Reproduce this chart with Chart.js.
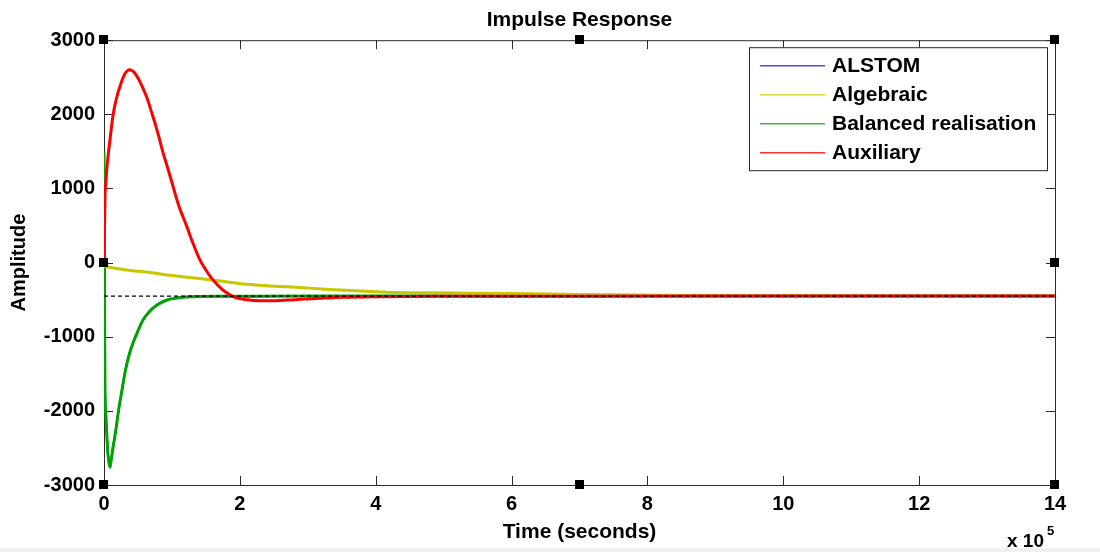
<!DOCTYPE html>
<html><head><meta charset="utf-8">
<script src="https://cdn.jsdelivr.net/npm/chart.js@4/dist/chart.umd.min.js"></script>
<style>
html,body{margin:0;padding:0;background:#f0f0f0;}
#c{display:block;background:#fff;}
</style></head><body>
<canvas id="c" width="1100" height="548"></canvas>
<script>
const FONT = '"Liberation Sans", Arial, Helvetica, sans-serif';
const seriesNames = ['ALSTOM', 'Algebraic', 'Balanced realisation', 'Auxiliary'];
const seriesColors = ['#0000ff', '#c8c800', '#00a400', '#ff0000'];
const legendColors = ['#4a4aff', '#d8d840', '#40b840', '#ff3030'];
const xTickVals = [0, 200000, 400000, 600000, 800000, 1000000, 1200000, 1400000];
const xTickLabels = ['0', '2', '4', '6', '8', '10', '12', '14'];
const yTickVals = [-3000, -2000, -1000, 0, 1000, 2000, 3000];
const yTickLabels = ['-3000', '-2000', '-1000', '0', '1000', '2000', '3000'];
const steadyState = -452;

// Auxiliary (red)
const auxT = [0, 1500, 3000, 4400, 6500, 8800, 11000, 13200, 15500, 18000, 20500, 23500, 27000, 31000, 34500, 38000, 41000, 44000, 50000, 57000, 63000, 69000, 75000, 81000, 87000, 94000, 100000, 110000, 122000, 131000, 141000, 150000, 160000, 175000, 190000, 205000, 220000, 240000, 260000, 280000, 300000, 325000, 350000, 400000, 500000, 700000, 1000000, 1400000];
const auxY = [0, 890, 1110, 1290, 1480, 1655, 1830, 1980, 2100, 2200, 2290, 2375, 2470, 2550, 2590, 2600, 2592, 2570, 2490, 2360, 2230, 2060, 1885, 1690, 1480, 1270, 1080, 770, 485, 260, 40, -100, -230, -370, -458, -495, -510, -515, -512, -500, -490, -478, -468, -460, -455, -453, -452, -452];

// Balanced realisation (green)
const balancedT = [0, 500, 1000, 1470, 2700, 4000, 6000, 8800, 10300, 13200, 17700, 22000, 26500, 31000, 36800, 42700, 50000, 57400, 65000, 72000, 82000, 92700, 105000, 116000, 130000, 141000, 170000, 220000, 300000, 500000, 1000000, 1400000];
const balancedY = [1500, 300, -1000, -1700, -2050, -2300, -2600, -2760, -2680, -2500, -2240, -1960, -1720, -1480, -1250, -1085, -920, -775, -680, -613, -550, -505, -480, -467, -460, -457, -455, -453, -452, -452, -452, -452];

// ALSTOM (blue) - hidden beneath the balanced realisation curve
const alstomT = balancedT;
const alstomY = balancedY;

// Algebraic (yellow)
const algebraicT = [0, 30000, 67700, 100000, 141000, 180000, 215000, 250000, 288500, 325000, 362000, 400000, 436000, 490000, 540000, 600000, 657000, 750000, 850000, 1000000, 1200000, 1400000];
const algebraicY = [-50, -95, -135, -175, -215, -258, -296, -318, -336, -358, -377, -392, -404, -408, -412, -418, -424, -435, -443, -448, -451, -452];

function pts(ts, ys) { return ts.map((t, i) => ({x: t, y: ys[i]})); }
const font20 = {family: FONT, size: 20, weight: 'bold'};
const font21 = {family: FONT, size: 21, weight: 'bold'};

const decor = {
  id: 'decor',
  beforeDatasetsDraw(chart) {
    const {ctx, chartArea: a, scales: {x, y}} = chart;
    ctx.save();
    ctx.strokeStyle = '#2b2b2b';
    ctx.lineWidth = 1;
    ctx.strokeRect(a.left + 0.5, a.top + 0.5, a.right - a.left, a.bottom - a.top);
    ctx.beginPath();
    x.ticks.forEach(t => {
      const px = Math.round(x.getPixelForValue(t.value)) + 0.5;
      ctx.moveTo(px, a.bottom); ctx.lineTo(px, a.bottom - 9);
      ctx.moveTo(px, a.top); ctx.lineTo(px, a.top + 9);
    });
    y.ticks.forEach(t => {
      const py = Math.round(y.getPixelForValue(t.value)) + 0.5;
      ctx.moveTo(a.left, py); ctx.lineTo(a.left + 9, py);
      ctx.moveTo(a.right, py); ctx.lineTo(a.right - 9, py);
    });
    ctx.stroke();
    ctx.restore();
  },
  afterDatasetsDraw(chart) {
    const {ctx, chartArea: a} = chart;
    ctx.save();
    // legend box
    const lx0 = a.right - 306, lx1 = a.right - 8, ly0 = a.top + 7, ly1 = a.top + 130;
    ctx.fillStyle = '#fff';
    ctx.fillRect(lx0, ly0, lx1 - lx0, ly1 - ly0);
    ctx.strokeStyle = '#262626';
    ctx.lineWidth = 1;
    ctx.strokeRect(lx0 + 0.5, ly0 + 0.5, lx1 - lx0, ly1 - ly0);
    ctx.font = 'bold 21px ' + FONT;
    ctx.textBaseline = 'middle';
    ctx.textAlign = 'left';
    chart.data.datasets.slice(0, 4).forEach((ds, i) => {
      const yy = ly0 + 18 + i * 29;
      ctx.strokeStyle = legendColors[i];
      ctx.lineWidth = 1.5;
      ctx.beginPath();
      ctx.moveTo(lx0 + 11, yy + 0.5); ctx.lineTo(lx0 + 76, yy + 0.5);
      ctx.stroke();
      ctx.fillStyle = '#000';
      ctx.fillText(ds.label, lx0 + 83, yy + 1);
    });
    // selection handles
    ctx.fillStyle = '#000';
    const mx = (a.left + a.right) / 2, my = (a.top + a.bottom) / 2;
    [[a.left, a.top], [mx, a.top], [a.right, a.top], [a.left, my], [a.right, my], [a.left, a.bottom], [mx, a.bottom], [a.right, a.bottom]].forEach(([hx, hy]) => {
      ctx.fillRect(Math.round(hx) - 5, Math.round(hy) - 5, 9, 9);
    });
    // exponent label
    ctx.textBaseline = 'alphabetic';
    ctx.font = 'bold 19px ' + FONT;
    ctx.fillText('x 10', a.right - 48, 547);
    ctx.font = 'bold 13px ' + FONT;
    ctx.fillText('5', a.right - 8, 535);
    ctx.restore();
  }
};

new Chart(document.getElementById('c'), {
  type: 'line',
  data: {
    datasets: [
      {label: seriesNames[0], data: pts(alstomT, alstomY), borderColor: seriesColors[0], borderWidth: 2, order: 4},
      {label: seriesNames[1], data: pts(algebraicT, algebraicY), borderColor: seriesColors[1], borderWidth: 3, order: 2},
      {label: seriesNames[2], data: pts(balancedT, balancedY), borderColor: seriesColors[2], borderWidth: 3, order: 3},
      {label: seriesNames[3], data: pts(auxT, auxY), borderColor: seriesColors[3], borderWidth: 3, order: 1},
      {label: 'steady', data: pts([0, 1400000], [steadyState, steadyState]), borderColor: '#000', borderWidth: 1.2, borderDash: [4, 3], order: 0, cubicInterpolationMode: 'default', tension: 0}
    ]
  },
  options: {
    responsive: false,
    animation: false,
    layout: {padding: {left: 0, right: 45, top: 0, bottom: 0}},
    elements: {point: {radius: 0}, line: {cubicInterpolationMode: 'monotone', fill: false}},
    plugins: {
      legend: {display: false},
      tooltip: {enabled: false},
      title: {display: true, text: 'Impulse Response', fullSize: false, font: font21, color: '#000', padding: {top: 8, bottom: 7}}
    },
    scales: {
      x: {
        type: 'linear', min: 0, max: 1400000,
        afterBuildTicks(s) { s.ticks = xTickVals.map(v => ({value: v})); },
        ticks: {callback: (v, i) => xTickLabels[i], font: font20, color: '#000', padding: 7, maxRotation: 0, autoSkip: false},
        grid: {display: false, drawTicks: false, tickLength: 0}, border: {display: false},
        title: {display: true, text: 'Time (seconds)', font: font21, color: '#000', padding: {top: 0, bottom: 3}},
        afterFit(s) { s.height = 63; }
      },
      y: {
        type: 'linear', min: -3000, max: 3000,
        afterBuildTicks(s) { s.ticks = yTickVals.map(v => ({value: v})); },
        ticks: {callback: (v, i) => yTickLabels[i], font: font20, color: '#000', padding: 9, autoSkip: false},
        grid: {display: false, drawTicks: false, tickLength: 0}, border: {display: false},
        title: {display: true, text: 'Amplitude', font: font20, color: '#000', padding: {top: 7, bottom: 0}},
        afterFit(s) { s.width = 104; }
      }
    }
  },
  plugins: [decor]
});
</script>
</body></html>
